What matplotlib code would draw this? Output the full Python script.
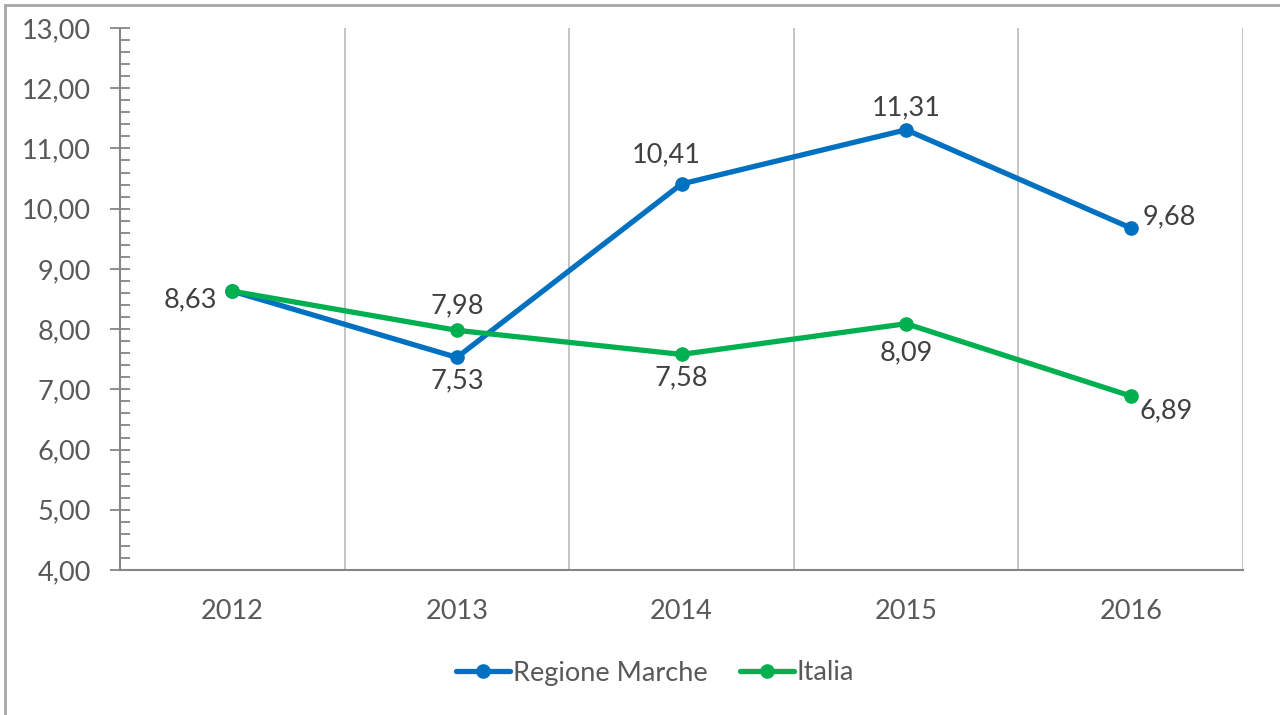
import matplotlib.pyplot as plt
from matplotlib.ticker import MultipleLocator, FuncFormatter
from matplotlib.patches import Rectangle

plt.rcParams['font.family'] = ['Lato', 'DejaVu Sans']

anni = ["2012", "2013", "2014", "2015", "2016"]
marche = [8.63, 7.53, 10.41, 11.31, 9.68]
italia = [8.63, 7.98, 7.58, 8.09, 6.89]

# label offsets in pixels (dx, dy up)
off_marche = [None, (0, -23), (-15, 29), (0, 22), (39, 11)]
off_italia = [(-42, -9), (0, 25), (0, -23), (0, -29), (35, -15)]

blu = "#0070C0"
verde = "#00B050"
testo = "#595959"
fs = 19.5

fig = plt.figure(figsize=(12.8, 7.15), dpi=100)
ax = fig.add_axes([120 / 1280, 1 - 570 / 715, (1243 - 120) / 1280, (570 - 28) / 715])

# outer chart frame
fig.patches.append(Rectangle((5 / 1280, -0.1), 1.2, 1 - 5 / 715 + 0.1,
                             transform=fig.transFigure, fill=False,
                             edgecolor="#a6a6a6", linewidth=2))

x = list(range(len(anni)))
ax.plot(x, marche, color=blu, linewidth=3.8, marker="o", markersize=9.5,
        label="Regione Marche", solid_capstyle="round", zorder=3)
ax.plot(x, italia, color=verde, linewidth=3.8, marker="o", markersize=9.5,
        label="Italia", solid_capstyle="round", zorder=3)

def fmt(v):
    return f"{v:.2f}".replace(".", ",")

for serie, offs in ((marche, off_marche), (italia, off_italia)):
    for i, v in enumerate(serie):
        if offs[i] is None:
            continue
        dx, dy = offs[i]
        ax.annotate(fmt(v), (i, v), xytext=(dx * 0.72, dy * 0.72),
                    textcoords="offset points", ha="center", va="center",
                    fontsize=fs, color="#404040")

ax.set_xlim(-0.5, len(anni) - 0.5)
ax.set_ylim(4, 13)
ax.set_xticks(x)
ax.set_xticklabels(anni)
ax.set_xticks([i + 0.5 for i in range(len(anni))], minor=True)
ax.grid(False)
ax.grid(True, which="minor", axis="x", color="#bfbfbf", linewidth=1.3)
ax.tick_params(axis="x", which="both", length=0, pad=21, labelsize=fs,
               labelcolor=testo)

ax.yaxis.set_major_locator(MultipleLocator(1))
ax.yaxis.set_minor_locator(MultipleLocator(0.2))
ax.yaxis.set_major_formatter(FuncFormatter(lambda v, p: fmt(v)))
ax.tick_params(axis="y", which="major", direction="inout", length=14,
               width=1.3, color="#868686", labelsize=fs, labelcolor=testo,
               pad=14)
ax.tick_params(axis="y", which="minor", direction="in", length=7,
               width=1.3, color="#868686")

for s in ("top", "right"):
    ax.spines[s].set_visible(False)
ax.spines["left"].set_color("#868686")
ax.spines["left"].set_linewidth(1.5)
ax.spines["bottom"].set_color("#868686")
ax.spines["bottom"].set_linewidth(1.5)

leg = fig.legend(loc="center", bbox_to_anchor=(655 / 1280, 1 - 673 / 715),
                 ncol=2, frameon=False, fontsize=fs, handlelength=2.0,
                 handletextpad=0.1, columnspacing=1.2)
for t in leg.get_texts():
    t.set_color(testo)

fig.savefig("out.png", dpi=100)
